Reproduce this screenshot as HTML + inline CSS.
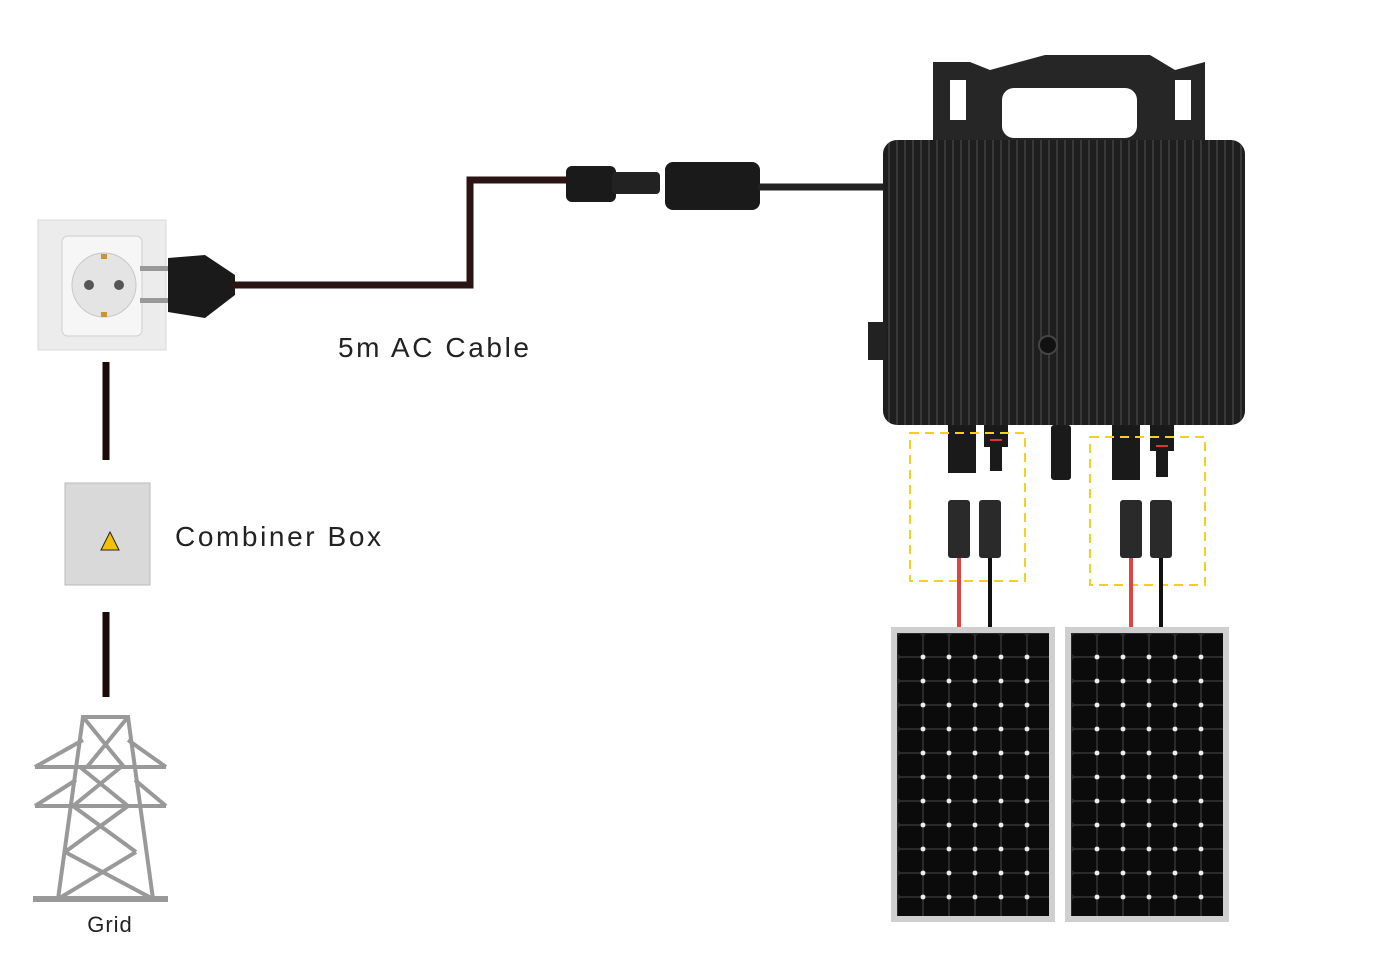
<!DOCTYPE html>
<html><head><meta charset="utf-8"><style>
html,body{margin:0;padding:0;background:#fff;}
svg{display:block}
text{font-family:"Liberation Sans",sans-serif;}
</style></head><body>
<svg width="1400" height="971" viewBox="0 0 1400 971" xmlns="http://www.w3.org/2000/svg">
<defs>
<pattern id="cells" x="897" y="633" width="26" height="24" patternUnits="userSpaceOnUse">
<rect width="26" height="24" fill="#2a2a2a"/>
<rect x="1" y="1" width="24" height="22" rx="3" fill="#0b0b0b"/>
</pattern>
<pattern id="cells2" x="1071" y="633" width="26" height="24" patternUnits="userSpaceOnUse">
<rect width="26" height="24" fill="#2a2a2a"/>
<rect x="1" y="1" width="24" height="22" rx="3" fill="#0b0b0b"/>
</pattern>
<pattern id="dots" x="884" y="621" width="26" height="24" patternUnits="userSpaceOnUse">
<circle cx="13" cy="12" r="2.4" fill="#eee"/>
</pattern>
<pattern id="dots2" x="1058" y="621" width="26" height="24" patternUnits="userSpaceOnUse">
<circle cx="13" cy="12" r="2.4" fill="#eee"/>
</pattern>
<pattern id="fins" x="0" y="0" width="8" height="10" patternUnits="userSpaceOnUse">
<rect width="8" height="10" fill="#1e1e1e"/>
<rect x="0" width="2" height="10" fill="#383838"/>
</pattern>
</defs>

<!-- outlet -->
<rect x="38" y="220" width="128" height="130" fill="#ececec" stroke="#d8d8d8"/>
<rect x="62" y="236" width="80" height="100" rx="6" fill="#f6f6f6" stroke="#cfcfcf"/>
<circle cx="104" cy="285" r="32" fill="#e4e4e4" stroke="#c8c8c8"/>
<circle cx="89" cy="285" r="5" fill="#555"/><circle cx="119" cy="285" r="5" fill="#555"/>
<rect x="101" y="254" width="6" height="5" fill="#c8962e"/><rect x="101" y="312" width="6" height="5" fill="#c8962e"/>
<!-- plug -->
<rect x="140" y="266" width="30" height="5" fill="#999"/><rect x="140" y="298" width="30" height="5" fill="#999"/>
<path d="M168 258 L205 255 L235 275 L235 295 L205 318 L168 312 Z" fill="#1a1a1a"/>
<!-- AC cable -->
<polyline points="230,285 470,285 470,180 575,180" fill="none" stroke="#2b1414" stroke-width="7"/>
<rect x="566" y="166" width="50" height="36" rx="6" fill="#1a1a1a"/>
<rect x="612" y="172" width="48" height="22" rx="4" fill="#222"/>
<rect x="665" y="162" width="95" height="48" rx="8" fill="#1a1a1a"/>
<line x1="758" y1="187" x2="885" y2="187" stroke="#222" stroke-width="7"/>
<text x="338" y="357" font-size="28" fill="#222" letter-spacing="2.6">5m AC Cable</text>

<!-- inverter bracket -->
<path d="M933 140 L933 62 L970 62 L990 70 L1045 55 L1150 55 L1175 70 L1205 62 L1205 140 Z" fill="#262626"/>
<rect x="1002" y="88" width="135" height="50" rx="12" fill="#fff"/>
<rect x="950" y="80" width="16" height="40" fill="#fff"/>
<rect x="1175" y="80" width="16" height="40" fill="#fff"/>
<!-- inverter body -->
<rect x="883" y="140" width="362" height="285" rx="14" fill="url(#fins)"/>
<rect x="868" y="322" width="18" height="38" fill="#222"/>
<circle cx="1048" cy="345" r="9" fill="#111" stroke="#444" stroke-width="2"/>
<!-- connectors under inverter -->
<rect x="948" y="425" width="28" height="48" fill="#1a1a1a"/>
<rect x="984" y="425" width="24" height="22" fill="#1a1a1a"/><rect x="990" y="447" width="12" height="24" fill="#1a1a1a"/>
<rect x="1051" y="425" width="20" height="55" rx="3" fill="#1a1a1a"/>
<rect x="1112" y="425" width="28" height="55" fill="#1a1a1a"/>
<rect x="1150" y="425" width="24" height="26" fill="#1a1a1a"/><rect x="1156" y="450" width="12" height="27" fill="#1a1a1a"/>
<line x1="990" y1="440" x2="1002" y2="440" stroke="#d33" stroke-width="2"/>
<line x1="1156" y1="446" x2="1168" y2="446" stroke="#d33" stroke-width="2"/>
<!-- yellow dashed boxes -->
<g fill="none" stroke="#f5d020" stroke-width="2" stroke-dasharray="9,6">
<rect x="910" y="433" width="115" height="148"/>
<rect x="1090" y="437" width="115" height="148"/>
</g>
<!-- panel connectors & wires -->
<g>
<rect x="948" y="500" width="22" height="58" rx="3" fill="#2a2a2a"/>
<rect x="979" y="500" width="22" height="58" rx="3" fill="#2a2a2a"/>
<line x1="959" y1="558" x2="959" y2="628" stroke="#d44" stroke-width="4"/>
<line x1="990" y1="558" x2="990" y2="628" stroke="#111" stroke-width="4"/>
<rect x="1120" y="500" width="22" height="58" rx="3" fill="#2a2a2a"/>
<rect x="1150" y="500" width="22" height="58" rx="3" fill="#2a2a2a"/>
<line x1="1131" y1="558" x2="1131" y2="628" stroke="#d44" stroke-width="4"/>
<line x1="1161" y1="558" x2="1161" y2="628" stroke="#111" stroke-width="4"/>
</g>
<!-- panels -->
<rect x="891" y="627" width="164" height="295" fill="#cfcfcf"/>
<rect x="897" y="633" width="152" height="283" fill="url(#cells)"/>
<rect x="910" y="645" width="130" height="262" fill="url(#dots)"/>
<rect x="1065" y="627" width="164" height="295" fill="#cfcfcf"/>
<rect x="1071" y="633" width="152" height="283" fill="url(#cells2)"/>
<rect x="1084" y="645" width="130" height="262" fill="url(#dots2)"/>

<!-- vertical line -->
<line x1="106" y1="362" x2="106" y2="460" stroke="#1a0a0a" stroke-width="7"/>
<line x1="106" y1="612" x2="106" y2="697" stroke="#1a0a0a" stroke-width="7"/>
<!-- combiner box -->
<rect x="65" y="483" width="85" height="102" fill="#d9d9d9" stroke="#bbb"/>
<polygon points="110,532 119,550 101,550" fill="#f2c200" stroke="#222"/>
<text x="175" y="546" font-size="28" fill="#222" letter-spacing="2.6">Combiner Box</text>
<!-- tower -->
<g fill="none" stroke="#999" stroke-width="4">
<line x1="33" y1="899" x2="168" y2="899" stroke-width="6"/>
<polyline points="58,899 83,717 128,717 153,899"/>
<line x1="35" y1="767" x2="166" y2="767"/>
<line x1="35" y1="806" x2="166" y2="806"/>
<line x1="35" y1="767" x2="83" y2="740"/><line x1="166" y1="767" x2="128" y2="740"/>
<line x1="35" y1="806" x2="76" y2="780"/><line x1="166" y1="806" x2="135" y2="780"/>
<line x1="83" y1="717" x2="124" y2="767"/><line x1="128" y1="717" x2="87" y2="767"/>
<line x1="80" y1="767" x2="128" y2="806"/><line x1="121" y1="767" x2="73" y2="806"/>
<line x1="73" y1="806" x2="136" y2="852"/><line x1="128" y1="806" x2="65" y2="852"/>
<line x1="65" y1="852" x2="153" y2="899"/><line x1="136" y1="852" x2="58" y2="899"/>
</g>
<text x="110" y="932" font-size="22" text-anchor="middle" fill="#222" letter-spacing="1">Grid</text>
</svg>
</body></html>
